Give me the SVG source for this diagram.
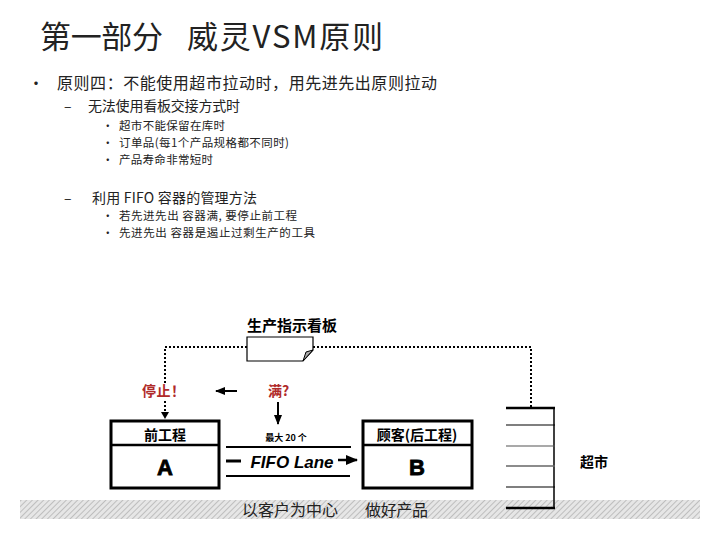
<svg xmlns="http://www.w3.org/2000/svg" width="720" height="540" viewBox="0 0 720 540">
<style>
.cjk{font-family:"Noto Sans CJK SC","Liberation Sans",sans-serif;fill:#222}
.t1{font-size:16px}
.t2{font-size:14px}
.t3{font-size:11.5px}
.b{font-weight:bold;fill:#000}
.red{font-weight:bold;fill:#b02a2a}
.box{fill:#fff;stroke:#000;stroke-width:3}
.dot{fill:none;stroke:#000;stroke-width:2;stroke-dasharray:2 2}
.ln{stroke:#000;stroke-width:2.5}
</style>
<defs>
<pattern id="hatch" width="4" height="4" patternUnits="userSpaceOnUse" patternTransform="rotate(45)">
<rect width="4" height="4" fill="#e6e6e6"/>
<line x1="0" y1="0" x2="0" y2="4" stroke="#b4b4b4" stroke-width="1.6"/>
</pattern>
<marker id="ah" viewBox="0 0 10 10" refX="9" refY="5" markerWidth="5" markerHeight="5" orient="auto">
<path d="M0,1 L10,5 L0,9 z" fill="#000"/>
</marker>
</defs>
<rect width="720" height="540" fill="#fff"/>
<g id="title">
<text class="cjk" x="40" y="48" font-size="31" textLength="123">第一部分</text>
<text class="cjk" x="187" y="48" font-size="31" textLength="196">威灵VSM原则</text>
</g>
<g id="bullets">
<text class="cjk t1" x="28" y="89">•</text>
<text class="cjk t1" x="57" y="89" textLength="380">原则四：不能使用超市拉动时，用先进先出原则拉动</text>
<text class="cjk t2" x="64" y="111">–</text>
<text class="cjk t2" x="88" y="111" textLength="152">无法使用看板交接方式时</text>
<text class="cjk t3" x="102" y="130">•</text>
<text class="cjk t3" x="119" y="130" textLength="106">超市不能保留在库时</text>
<text class="cjk t3" x="102" y="147">•</text>
<text class="cjk t3" x="119" y="147" textLength="170">订单品(每1个产品规格都不同时)</text>
<text class="cjk t3" x="102" y="164">•</text>
<text class="cjk t3" x="119" y="164" textLength="94">产品寿命非常短时</text>
<text class="cjk t2" x="64" y="203">–</text>
<text class="cjk t2" x="92" y="203" textLength="165">利用 FIFO 容器的管理方法</text>
<text class="cjk t3" x="102" y="220">•</text>
<text class="cjk t3" x="119" y="220" textLength="178">若先进先出 容器满, 要停止前工程</text>
<text class="cjk t3" x="102" y="237">•</text>
<text class="cjk t3" x="119" y="237" textLength="196">先进先出 容器是遏止过剩生产的工具</text>
</g>
<rect x="20" y="500" width="680" height="19" fill="url(#hatch)"/>
<text class="cjk" x="242" y="516" font-size="16" fill="#333" textLength="96">以客户为中心</text>
<text class="cjk" x="365" y="516" font-size="16" fill="#333" textLength="63">做好产品</text>
<g id="connectors">
<path class="dot" d="M247,347 H165 V384"/>
<path class="dot" d="M165,401 V413"/>
<path d="M161,412 L169,412 L165,419 z" fill="#000"/>
<path class="dot" d="M313,347 H531 V407"/>
<line x1="237" y1="391" x2="216" y2="391" stroke="#000" stroke-width="2" marker-end="url(#ah)"/>
<line x1="278" y1="402" x2="278" y2="424" stroke="#000" stroke-width="2" marker-end="url(#ah)"/>
</g>
<g id="kanban">
<text class="cjk b" x="247" y="331" font-size="15">生产指示看板</text>
<path d="M247,337 H313 V350 L303,361 H247 Z" fill="#fff" stroke="#000" stroke-width="1.2"/>
<path d="M303,361 L306,352 L313,350 Z" fill="#aaa" stroke="#000" stroke-width="1"/>
</g>
<g id="labels">
<text class="cjk red" x="142" y="396" font-size="14" textLength="43">停止！</text>
<text class="cjk red" x="268" y="396" font-size="14">满?</text>
</g>
<g id="nodeA">
<rect class="box" x="111" y="421" width="108" height="67"/>
<line class="ln" x1="111" y1="445" x2="219" y2="445"/>
<text class="cjk b" x="165" y="440" font-size="14" text-anchor="middle">前工程</text>
<text x="165" y="475" font-family="Liberation Sans,sans-serif" font-weight="900" font-size="22" text-anchor="middle" stroke="#000" stroke-width="0.8">A</text>
</g>
<g id="fifo">
<text class="cjk b" x="286" y="441" font-size="9" text-anchor="middle">最大 20 个</text>
<line x1="226" y1="447" x2="351" y2="447" stroke="#000" stroke-width="2"/>
<line x1="226" y1="476" x2="350" y2="476" stroke="#000" stroke-width="2"/>
<line x1="226" y1="461" x2="241" y2="461" stroke="#000" stroke-width="3"/>
<text x="292" y="468" font-family="Liberation Sans,sans-serif" font-weight="bold" font-style="italic" font-size="17" text-anchor="middle">FIFO Lane</text>
<line x1="338" y1="460" x2="357" y2="460" stroke="#000" stroke-width="2.5" marker-end="url(#ah)"/>
</g>
<g id="nodeB">
<rect class="box" x="363" y="421" width="109" height="67"/>
<line class="ln" x1="363" y1="445" x2="472" y2="445"/>
<text class="cjk b" x="417" y="440" font-size="14" text-anchor="middle">顾客(后工程)</text>
<text x="417" y="475" font-family="Liberation Sans,sans-serif" font-weight="900" font-size="22" text-anchor="middle" stroke="#000" stroke-width="0.8">B</text>
</g>
<g id="supermarket">
<line x1="554" y1="407" x2="554" y2="509" stroke="#000" stroke-width="1.5"/>
<line x1="506" y1="408" x2="555" y2="408" stroke="#000" stroke-width="2.5"/>
<line x1="506" y1="425" x2="555" y2="425" stroke="#000" stroke-width="1.2"/>
<line x1="506" y1="446" x2="555" y2="446" stroke="#555" stroke-width="1.2"/>
<line x1="506" y1="466" x2="555" y2="466" stroke="#666" stroke-width="1.5"/>
<line x1="506" y1="487" x2="555" y2="487" stroke="#000" stroke-width="1.2"/>
<line x1="506" y1="508" x2="555" y2="508" stroke="#000" stroke-width="2.5"/>
<text class="cjk b" x="580" y="467" font-size="14">超市</text>
</g>
</svg>
